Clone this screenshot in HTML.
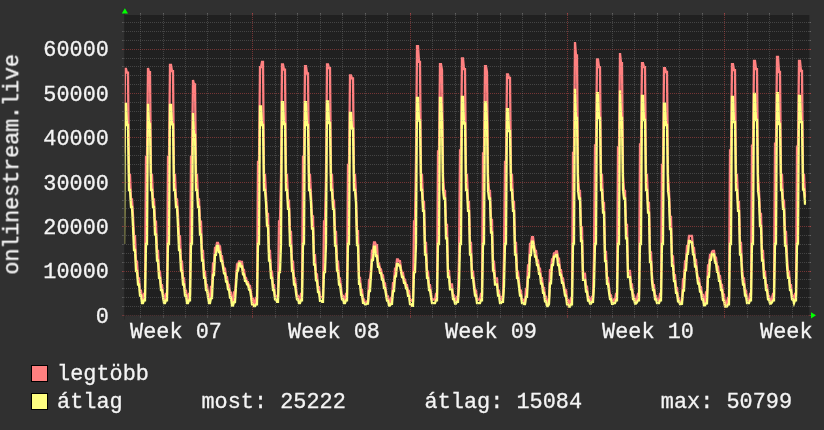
<!DOCTYPE html>
<html><head><meta charset="utf-8"><title>onlinestream.live</title>
<style>
html,body{margin:0;padding:0;background:#303030;}
body{width:824px;height:430px;overflow:hidden;position:relative;font-family:"Liberation Mono",monospace;color:#f4f4f4;}
svg{position:absolute;left:0;top:0;}
.t{position:absolute;white-space:pre;font-family:"Liberation Mono",monospace;font-size:21.85px;line-height:24px;height:24px;letter-spacing:0.018px;color:#f4f4f4;-webkit-text-stroke:0.3px #f4f4f4;will-change:transform;transform-origin:0 17.81px;transform:scaleY(1.04);}
.r{width:200px;text-align:right;}
.vt{left:0;top:0;letter-spacing:-0.142px;transform:translate(18.75px,256.79px) rotate(-90deg) scaleY(1.04);}
.lb{position:absolute;left:31px;width:15px;height:15px;border:1px solid #000;}
</style></head><body>
<svg width="824" height="430" viewBox="0 0 824 430" shape-rendering="auto">
<rect x="124.4" y="15" width="684.9" height="300.5" fill="#202020"/>
<clipPath id="c"><rect x="124.4" y="14.7" width="684.9" height="301"/></clipPath>
<g clip-path="url(#c)" fill="none" stroke-linejoin="miter" stroke-linecap="butt">
<path d="M124 153.0 L125 68.9 L126 68.9 L127 72.7 L128 72.7 L129 175.0 L130 175.0 L131 199.3 L132 199.3 L133 215.0 L134 236.2 L135 236.2 L136 261.6 L137 261.6 L138 278.4 L139 278.4 L140 290.6 L141 290.6 L142 299.5 L143 299.5 L144 294.0 L145 294.0 L146 157.0 L147 157.0 L148 68.0 L149 72.2 L150 72.2 L151 175.0 L152 175.0 L153 199.3 L154 199.3 L155 221.7 L156 221.7 L157 251.0 L158 251.0 L159 271.7 L160 271.7 L161 285.1 L162 285.1 L163 293.3 L164 299.5 L165 299.5 L166 294.0 L167 294.0 L168 157.0 L169 157.0 L170 65.0 L171 65.0 L172 71.1 L173 71.1 L174 175.0 L175 175.0 L176 199.3 L177 199.3 L178 215.0 L179 236.2 L180 236.2 L181 261.6 L182 261.6 L183 278.4 L184 278.4 L185 290.6 L186 290.6 L187 299.5 L188 299.5 L189 294.0 L190 294.0 L191 157.0 L192 157.0 L193 80.1 L194 84.3 L195 84.3 L196 175.0 L197 175.0 L198 199.3 L199 199.3 L200 221.7 L201 221.7 L202 251.0 L203 251.0 L204 271.7 L205 271.7 L206 285.1 L207 285.1 L208 293.3 L209 299.7 L210 299.7 L211 286.8 L212 286.8 L213 263.3 L214 263.3 L215 248.0 L216 248.0 L217 242.9 L218 242.9 L219 246.4 L220 246.4 L221 256.1 L222 256.1 L223 264.6 L224 268.7 L225 268.7 L226 277.1 L227 277.1 L228 285.0 L229 285.0 L230 292.7 L231 292.7 L232 302.6 L233 302.6 L234 292.5 L235 292.5 L236 279.7 L237 264.3 L238 264.3 L239 261.3 L240 261.3 L241 262.0 L242 262.0 L243 270.0 L244 270.0 L245 277.8 L246 277.8 L247 282.2 L248 282.2 L249 286.0 L250 286.0 L251 293.1 L252 298.6 L253 298.6 L254 303.5 L255 303.5 L256 298.0 L257 298.0 L258 162.0 L259 162.0 L260 67.2 L261 67.2 L262 62.0 L263 62.0 L264 175.0 L265 175.0 L266 195.1 L267 214.0 L268 214.0 L269 251.0 L270 251.0 L271 271.7 L272 271.7 L273 285.1 L274 285.1 L275 295.9 L276 295.9 L277 296.8 L278 296.8 L279 221.5 L280 221.5 L281 176.0 L282 64.3 L283 64.3 L284 69.6 L285 69.6 L286 175.0 L287 175.0 L288 200.6 L289 200.6 L290 231.8 L291 231.8 L292 261.6 L293 261.6 L294 278.4 L295 278.4 L296 287.8 L297 295.9 L298 295.9 L299 299.5 L300 299.5 L301 294.0 L302 294.0 L303 157.0 L304 157.0 L305 66.2 L306 66.2 L307 73.5 L308 73.5 L309 175.0 L310 175.0 L311 195.1 L312 216.3 L313 216.3 L314 255.2 L315 255.2 L316 274.4 L317 274.4 L318 287.2 L319 287.2 L320 297.4 L321 297.4 L322 296.8 L323 296.8 L324 221.5 L325 221.5 L326 176.0 L327 64.3 L328 64.3 L329 68.2 L330 68.2 L331 175.0 L332 175.0 L333 200.6 L334 200.6 L335 231.8 L336 231.8 L337 261.6 L338 261.6 L339 278.4 L340 278.4 L341 287.8 L342 295.9 L343 295.9 L344 299.5 L345 299.5 L346 294.0 L347 294.0 L348 165.0 L349 165.0 L350 75.4 L351 75.4 L352 78.3 L353 78.3 L354 175.0 L355 175.0 L356 195.1 L357 231.2 L358 231.2 L359 277.8 L360 277.8 L361 290.0 L362 290.0 L363 299.4 L364 299.4 L365 303.4 L366 303.4 L367 301.3 L368 301.3 L369 279.8 L370 279.8 L371 269.3 L372 250.7 L373 250.7 L374 242.3 L375 242.3 L376 245.1 L377 245.1 L378 263.3 L379 263.3 L380 269.3 L381 269.3 L382 275.3 L383 275.3 L384 283.4 L385 283.4 L386 292.1 L387 296.5 L388 296.5 L389 303.5 L390 303.5 L391 298.0 L392 298.0 L393 283.1 L394 283.1 L395 268.7 L396 268.7 L397 259.3 L398 259.3 L399 261.2 L400 261.2 L401 269.0 L402 272.9 L403 272.9 L404 279.6 L405 279.6 L406 285.1 L407 285.1 L408 290.9 L409 290.9 L410 299.9 L411 299.9 L412 300.8 L413 300.8 L414 221.5 L415 221.5 L416 158.0 L417 46.2 L418 46.2 L419 61.9 L420 61.9 L421 175.0 L422 175.0 L423 201.8 L424 201.8 L425 242.8 L426 242.8 L427 271.7 L428 271.7 L429 285.1 L430 285.1 L431 293.3 L432 299.7 L433 299.7 L434 299.5 L435 299.5 L436 294.0 L437 294.0 L438 151.5 L439 151.5 L440 64.2 L441 64.2 L442 70.0 L443 175.0 L444 190.8 L445 190.8 L446 224.9 L447 224.9 L448 271.0 L449 271.0 L450 284.5 L451 284.5 L452 284.5 L453 295.5 L454 295.5 L455 300.8 L456 300.8 L457 296.8 L458 296.8 L459 257.8 L460 150.5 L461 150.5 L462 58.3 L463 58.3 L464 69.1 L465 69.1 L466 175.0 L467 175.0 L468 201.8 L469 201.8 L470 242.8 L471 242.8 L472 271.7 L473 271.7 L474 281.8 L475 290.6 L476 290.6 L477 299.7 L478 299.7 L479 299.5 L480 299.5 L481 294.0 L482 294.0 L483 153.5 L484 153.5 L485 66.2 L486 66.2 L487 72.0 L488 175.0 L489 190.8 L490 190.8 L491 219.8 L492 219.8 L493 261.6 L494 261.6 L495 278.4 L496 278.4 L497 278.4 L498 290.6 L499 290.6 L500 299.7 L501 299.7 L502 296.8 L503 296.8 L504 257.8 L505 162.0 L506 162.0 L507 74.4 L508 74.4 L509 77.9 L510 77.9 L511 175.0 L512 175.0 L513 201.8 L514 201.8 L515 242.8 L516 242.8 L517 271.7 L518 271.7 L519 281.8 L520 290.6 L521 290.6 L522 299.7 L523 299.7 L524 303.0 L525 303.0 L526 288.9 L527 288.9 L528 265.3 L529 265.3 L530 244.0 L531 244.0 L532 237.1 L533 237.1 L534 244.8 L535 250.9 L536 250.9 L537 260.5 L538 260.5 L539 268.7 L540 268.7 L541 278.2 L542 278.2 L543 288.0 L544 288.0 L545 296.7 L546 296.7 L547 305.1 L548 305.1 L549 297.8 L550 270.2 L551 270.2 L552 259.3 L553 259.3 L554 253.5 L555 253.5 L556 251.5 L557 251.5 L558 258.7 L559 258.7 L560 270.2 L561 270.2 L562 278.4 L563 278.4 L564 286.4 L565 290.4 L566 290.4 L567 299.9 L568 299.9 L569 303.5 L570 303.5 L571 298.0 L572 298.0 L573 153.0 L574 153.0 L575 42.0 L576 55.4 L577 55.4 L578 175.0 L579 190.8 L580 190.8 L581 227.2 L582 227.2 L583 273.7 L584 273.7 L585 273.7 L586 286.7 L587 286.7 L588 297.0 L589 297.0 L590 300.8 L591 300.8 L592 296.8 L593 296.8 L594 257.8 L595 145.4 L596 145.4 L597 59.3 L598 59.3 L599 67.1 L600 67.1 L601 175.0 L602 175.0 L603 202.9 L604 202.9 L605 251.8 L606 251.8 L607 277.8 L608 277.8 L609 287.2 L610 295.5 L611 295.5 L612 302.0 L613 302.0 L614 299.5 L615 299.5 L616 294.0 L617 294.0 L618 147.4 L619 147.4 L620 53.0 L621 63.2 L622 63.2 L623 175.0 L624 190.8 L625 190.8 L626 224.9 L627 224.9 L628 271.0 L629 271.0 L630 271.0 L631 284.5 L632 284.5 L633 295.5 L634 295.5 L635 300.8 L636 300.8 L637 298.1 L638 294.0 L639 294.0 L640 144.5 L641 144.5 L642 63.2 L643 63.2 L644 67.1 L645 67.1 L646 175.0 L647 175.0 L648 203.0 L649 203.0 L650 252.5 L651 252.5 L652 275.1 L653 285.1 L654 285.1 L655 295.9 L656 295.9 L657 299.5 L658 299.5 L659 300.6 L660 294.0 L661 294.0 L662 165.0 L663 165.0 L664 68.1 L665 68.1 L666 72.0 L667 72.0 L668 175.0 L669 190.8 L670 216.9 L671 216.9 L672 256.3 L673 256.3 L674 275.1 L675 275.1 L676 287.8 L677 287.8 L678 297.8 L679 297.8 L680 303.6 L681 303.6 L682 300.8 L683 279.3 L684 279.3 L685 261.3 L686 261.3 L687 246.1 L688 246.1 L689 235.8 L690 235.8 L691 235.8 L692 235.8 L693 247.8 L694 247.8 L695 259.9 L696 259.9 L697 272.2 L698 278.3 L699 278.3 L700 287.1 L701 287.1 L702 295.0 L703 295.0 L704 302.4 L705 302.4 L706 292.5 L707 292.5 L708 265.4 L709 265.4 L710 255.0 L711 255.0 L712 251.8 L713 251.0 L714 251.0 L715 257.7 L716 257.7 L717 266.7 L718 266.7 L719 275.8 L720 275.8 L721 284.8 L722 284.8 L723 294.6 L724 294.6 L725 304.8 L726 304.8 L727 302.1 L728 298.0 L729 298.0 L730 150.5 L731 150.5 L732 64.2 L733 64.2 L734 70.1 L735 70.1 L736 175.0 L737 175.0 L738 201.8 L739 201.8 L740 242.8 L741 242.8 L742 266.8 L743 278.4 L744 278.4 L745 290.6 L746 290.6 L747 299.5 L748 299.5 L749 300.6 L750 294.0 L751 294.0 L752 145.7 L753 145.7 L754 60.9 L755 60.9 L756 69.1 L757 69.1 L758 175.0 L759 190.8 L760 214.0 L761 214.0 L762 251.0 L763 251.0 L764 271.7 L765 271.7 L766 285.1 L767 285.1 L768 295.9 L769 295.9 L770 300.8 L771 300.8 L772 298.1 L773 294.0 L774 294.0 L775 143.7 L776 143.7 L777 57.0 L778 57.0 L779 72.0 L780 72.0 L781 175.0 L782 175.0 L783 200.6 L784 200.6 L785 231.8 L786 231.8 L787 256.3 L788 271.7 L789 271.7 L790 285.1 L791 285.1 L792 295.9 L793 295.9 L794 300.6 L795 294.0 L796 294.0 L797 146.6 L798 146.6 L799 60.9 L800 60.9 L801 71.0 L802 71.0 L803 175.0 L804 175.0 L805 196.5 L806 196.5" stroke="#ff8080" stroke-width="2.3"/>
<path d="M124 244.0 L125 103.8 L126 103.8 L127 125.0 L128 125.0 L129 190.0 L130 190.0 L131 207.0 L132 207.0 L133 227.0 L134 250.0 L135 250.0 L136 271.0 L137 271.0 L138 284.5 L139 284.5 L140 295.5 L141 295.5 L142 303.2 L143 303.2 L144 300.3 L145 300.3 L146 244.0 L147 244.0 L148 103.8 L149 124.0 L150 124.0 L151 190.0 L152 190.0 L153 207.0 L154 207.0 L155 234.7 L156 234.7 L157 260.5 L158 260.5 L159 277.8 L160 277.8 L161 290.0 L162 290.0 L163 297.4 L164 303.2 L165 303.2 L166 300.3 L167 300.3 L168 244.0 L169 244.0 L170 104.8 L171 104.8 L172 124.4 L173 124.4 L174 190.0 L175 190.0 L176 207.0 L177 207.0 L178 227.0 L179 250.0 L180 250.0 L181 271.0 L182 271.0 L183 284.5 L184 284.5 L185 295.5 L186 295.5 L187 303.2 L188 303.2 L189 300.3 L190 300.3 L191 244.0 L192 244.0 L193 113.1 L194 135.0 L195 135.0 L196 190.0 L197 190.0 L198 207.0 L199 207.0 L200 234.7 L201 234.7 L202 260.5 L203 260.5 L204 277.8 L205 277.8 L206 290.0 L207 290.0 L208 297.4 L209 303.2 L210 303.2 L211 298.1 L212 298.1 L213 275.0 L214 275.0 L215 254.9 L216 254.9 L217 245.8 L218 245.8 L219 252.0 L220 252.0 L221 260.8 L222 260.8 L223 267.1 L224 273.4 L225 273.4 L226 281.6 L227 281.6 L228 289.4 L229 289.4 L230 297.7 L231 297.7 L232 305.5 L233 305.5 L234 302.1 L235 302.1 L236 286.6 L237 271.0 L238 271.0 L239 263.2 L240 263.2 L241 266.5 L242 266.5 L243 274.4 L244 274.4 L245 280.9 L246 280.9 L247 284.3 L248 284.3 L249 289.6 L250 289.6 L251 296.3 L252 304.3 L253 304.3 L254 306.1 L255 306.1 L256 304.3 L257 304.3 L258 244.0 L259 244.0 L260 106.3 L261 106.3 L262 125.0 L263 125.0 L264 190.0 L265 190.0 L266 202.8 L267 226.0 L268 226.0 L269 260.5 L270 260.5 L271 277.8 L272 277.8 L273 290.0 L274 290.0 L275 299.4 L276 299.4 L277 301.8 L278 301.8 L279 272.1 L280 272.1 L281 244.0 L282 102.2 L283 102.2 L284 124.0 L285 124.0 L286 190.0 L287 190.0 L288 208.9 L289 208.9 L290 245.6 L291 245.6 L292 271.0 L293 271.0 L294 284.5 L295 284.5 L296 292.8 L297 299.4 L298 299.4 L299 303.2 L300 303.2 L301 300.3 L302 300.3 L303 244.0 L304 244.0 L305 102.2 L306 102.2 L307 125.0 L308 125.0 L309 190.0 L310 190.0 L311 202.8 L312 228.5 L313 228.5 L314 264.7 L315 264.7 L316 280.4 L317 280.4 L318 292.2 L319 292.2 L320 300.9 L321 300.9 L322 301.8 L323 301.8 L324 272.1 L325 272.1 L326 244.0 L327 101.4 L328 101.4 L329 123.0 L330 123.0 L331 190.0 L332 190.0 L333 208.9 L334 208.9 L335 245.6 L336 245.6 L337 271.0 L338 271.0 L339 284.5 L340 284.5 L341 292.8 L342 299.4 L343 299.4 L344 303.2 L345 303.2 L346 300.3 L347 300.3 L348 244.0 L349 244.0 L350 113.0 L351 113.0 L352 128.7 L353 128.7 L354 190.0 L355 190.0 L356 202.8 L357 245.0 L358 245.0 L359 283.8 L360 283.8 L361 294.9 L362 294.9 L363 302.8 L364 302.8 L365 304.4 L366 304.4 L367 303.7 L368 303.7 L369 291.0 L370 291.0 L371 275.0 L372 260.0 L373 260.0 L374 246.6 L375 246.6 L376 256.0 L377 256.0 L378 266.8 L379 266.8 L380 272.8 L381 272.8 L382 279.6 L383 279.6 L384 288.2 L385 288.2 L386 294.8 L387 300.6 L388 300.6 L389 305.6 L390 305.6 L391 303.9 L392 303.9 L393 291.1 L394 291.1 L395 276.4 L396 276.4 L397 263.8 L398 263.8 L399 265.6 L400 265.6 L401 271.5 L402 277.0 L403 277.0 L404 282.9 L405 282.9 L406 288.4 L407 288.4 L408 295.9 L409 295.9 L410 304.2 L411 304.2 L412 305.8 L413 305.8 L414 272.1 L415 272.1 L416 244.0 L417 97.8 L418 97.8 L419 120.5 L420 120.5 L421 190.0 L422 190.0 L423 210.8 L424 210.8 L425 254.5 L426 254.5 L427 277.8 L428 277.8 L429 290.0 L430 290.0 L431 297.4 L432 303.2 L433 303.2 L434 303.2 L435 303.2 L436 300.3 L437 300.3 L438 244.0 L439 244.0 L440 97.8 L441 97.8 L442 120.0 L443 190.0 L444 198.5 L445 198.5 L446 238.4 L447 238.4 L448 277.1 L449 277.1 L450 289.4 L451 289.4 L452 289.4 L453 299.0 L454 299.0 L455 303.7 L456 303.7 L457 301.8 L458 301.8 L459 286.2 L460 244.0 L461 244.0 L462 97.0 L463 97.0 L464 123.5 L465 123.5 L466 190.0 L467 190.0 L468 210.8 L469 210.8 L470 254.5 L471 254.5 L472 277.8 L473 277.8 L474 287.2 L475 295.5 L476 295.5 L477 303.2 L478 303.2 L479 303.2 L480 303.2 L481 300.3 L482 300.3 L483 244.0 L484 244.0 L485 102.3 L486 102.3 L487 123.0 L488 190.0 L489 198.5 L490 198.5 L491 232.5 L492 232.5 L493 271.0 L494 271.0 L495 284.5 L496 284.5 L497 284.5 L498 295.5 L499 295.5 L500 303.2 L501 303.2 L502 301.8 L503 301.8 L504 286.2 L505 244.0 L506 244.0 L507 109.1 L508 109.1 L509 131.0 L510 131.0 L511 190.0 L512 190.0 L513 210.8 L514 210.8 L515 254.5 L516 254.5 L517 277.8 L518 277.8 L519 287.2 L520 295.5 L521 295.5 L522 303.2 L523 303.2 L524 304.0 L525 304.0 L526 296.9 L527 296.9 L528 277.4 L529 277.4 L530 255.1 L531 255.1 L532 241.6 L533 241.6 L534 248.3 L535 256.6 L536 256.6 L537 265.1 L538 265.1 L539 273.8 L540 273.8 L541 283.6 L542 283.6 L543 292.9 L544 292.9 L545 301.4 L546 301.4 L547 306.0 L548 306.0 L549 303.9 L550 283.4 L551 283.4 L552 265.2 L553 265.2 L554 256.7 L555 256.7 L556 254.8 L557 254.8 L558 265.0 L559 265.0 L560 274.9 L561 274.9 L562 282.9 L563 282.9 L564 288.9 L565 295.6 L566 295.6 L567 304.4 L568 304.4 L569 306.5 L570 306.5 L571 304.3 L572 304.3 L573 244.0 L574 244.0 L575 88.8 L576 118.0 L577 118.0 L578 190.0 L579 198.5 L580 198.5 L581 241.0 L582 241.0 L583 279.8 L584 279.8 L585 279.8 L586 291.6 L587 291.6 L588 300.5 L589 300.5 L590 303.7 L591 303.7 L592 301.8 L593 301.8 L594 286.2 L595 244.0 L596 244.0 L597 93.1 L598 93.1 L599 118.0 L600 118.0 L601 190.0 L602 190.0 L603 212.5 L604 212.5 L605 261.2 L606 261.2 L607 283.8 L608 283.8 L609 292.2 L610 299.0 L611 299.0 L612 303.8 L613 303.8 L614 303.2 L615 303.2 L616 300.3 L617 300.3 L618 244.0 L619 244.0 L620 90.4 L621 118.0 L622 118.0 L623 190.0 L624 198.5 L625 198.5 L626 238.4 L627 238.4 L628 277.1 L629 277.1 L630 277.1 L631 289.4 L632 289.4 L633 299.0 L634 299.0 L635 303.7 L636 303.7 L637 302.5 L638 300.3 L639 300.3 L640 244.0 L641 244.0 L642 96.0 L643 96.0 L644 120.0 L645 120.0 L646 190.0 L647 190.0 L648 212.7 L649 212.7 L650 262.0 L651 262.0 L652 281.1 L653 290.0 L654 290.0 L655 299.4 L656 299.4 L657 303.2 L658 303.2 L659 303.2 L660 300.3 L661 300.3 L662 244.0 L663 244.0 L664 103.7 L665 103.7 L666 125.0 L667 125.0 L668 190.0 L669 198.5 L670 229.2 L671 229.2 L672 265.8 L673 265.8 L674 281.1 L675 281.1 L676 292.8 L677 292.8 L678 301.3 L679 301.3 L680 304.2 L681 304.2 L682 303.9 L683 290.5 L684 290.5 L685 270.3 L686 270.3 L687 253.9 L688 253.9 L689 241.0 L690 241.0 L691 242.3 L692 242.3 L693 254.3 L694 254.3 L695 266.5 L696 266.5 L697 275.8 L698 283.5 L699 283.5 L700 291.6 L701 291.6 L702 299.4 L703 299.4 L704 305.3 L705 305.3 L706 303.4 L707 303.4 L708 276.9 L709 276.9 L710 259.8 L711 259.8 L712 253.9 L713 254.2 L714 254.2 L715 262.7 L716 262.7 L717 271.8 L718 271.8 L719 280.8 L720 280.8 L721 290.0 L722 290.0 L723 300.2 L724 300.2 L725 306.7 L726 306.7 L727 306.5 L728 304.3 L729 304.3 L730 244.0 L731 244.0 L732 97.0 L733 97.0 L734 122.0 L735 122.0 L736 190.0 L737 190.0 L738 210.8 L739 210.8 L740 254.5 L741 254.5 L742 274.4 L743 284.5 L744 284.5 L745 295.5 L746 295.5 L747 303.2 L748 303.2 L749 303.2 L750 300.3 L751 300.3 L752 244.0 L753 244.0 L754 93.9 L755 93.9 L756 120.0 L757 120.0 L758 190.0 L759 198.5 L760 226.0 L761 226.0 L762 260.5 L763 260.5 L764 277.8 L765 277.8 L766 290.0 L767 290.0 L768 299.4 L769 299.4 L770 303.7 L771 303.7 L772 302.5 L773 300.3 L774 300.3 L775 244.0 L776 244.0 L777 93.1 L778 93.1 L779 124.0 L780 124.0 L781 190.0 L782 190.0 L783 208.9 L784 208.9 L785 245.6 L786 245.6 L787 265.8 L788 277.8 L789 277.8 L790 290.0 L791 290.0 L792 299.4 L793 299.4 L794 303.2 L795 300.3 L796 300.3 L797 244.0 L798 244.0 L799 95.8 L800 95.8 L801 122.0 L802 122.0 L803 189.5 L804 189.5 L805 203.7 L806 203.7" stroke="#ffff80" stroke-width="2.3"/>
</g>
<path d="M122 306.5H811 M122 297.5H811 M122 288.5H811 M122 279.5H811 M122 262.5H811 M122 253.5H811 M122 244.5H811 M122 235.5H811 M122 217.5H811 M122 208.5H811 M122 200.5H811 M122 191.5H811 M122 173.5H811 M122 164.5H811 M122 155.5H811 M122 146.5H811 M122 129.5H811 M122 120.5H811 M122 111.5H811 M122 102.5H811 M122 84.5H811 M122 75.5H811 M122 66.5H811 M122 58.5H811 M122 40.5H811 M122 31.5H811 M122 22.5H811" stroke="#8f8f8f" stroke-opacity="0.33" stroke-width="1" stroke-dasharray="1 1" fill="none"/>
<path d="M122 271.5H811 M122 226.5H811 M122 182.5H811 M122 137.5H811 M122 93.5H811 M122 49.5H811" stroke="#de4f4f" stroke-opacity="0.44" stroke-width="1" stroke-dasharray="1 1" fill="none"/>
<path d="M122 315.5H811" stroke="#de4f4f" stroke-opacity="0.44" stroke-width="1" stroke-dasharray="1 1" fill="none" opacity="0.45"/>
<path d="M140.5 13V317 M163.5 13V317 M185.5 13V317 M207.5 13V317 M230.5 13V317 M275.5 13V317 M297.5 13V317 M320.5 13V317 M342.5 13V317 M365.5 13V317 M387.5 13V317 M432.5 13V317 M455.5 13V317 M477.5 13V317 M500.5 13V317 M522.5 13V317 M545.5 13V317 M590.5 13V317 M612.5 13V317 M634.5 13V317 M657.5 13V317 M679.5 13V317 M702.5 13V317 M747.5 13V317 M769.5 13V317 M792.5 13V317" stroke="#8f8f8f" stroke-opacity="0.33" stroke-width="1" stroke-dasharray="1 1" fill="none"/>
<path d="M252.5 13V317 M410.5 13V317 M567.5 13V317 M724.5 13V317" stroke="#de4f4f" stroke-opacity="0.44" stroke-width="1" stroke-dasharray="1 1" fill="none"/>
<path d="M122.5 306.5H124.5M809 306.5H811 M122.5 297.5H124.5M809 297.5H811 M122.5 288.5H124.5M809 288.5H811 M122.5 279.5H124.5M809 279.5H811 M122.5 262.5H124.5M809 262.5H811 M122.5 253.5H124.5M809 253.5H811 M122.5 244.5H124.5M809 244.5H811 M122.5 235.5H124.5M809 235.5H811 M122.5 217.5H124.5M809 217.5H811 M122.5 208.5H124.5M809 208.5H811 M122.5 200.5H124.5M809 200.5H811 M122.5 191.5H124.5M809 191.5H811 M122.5 173.5H124.5M809 173.5H811 M122.5 164.5H124.5M809 164.5H811 M122.5 155.5H124.5M809 155.5H811 M122.5 146.5H124.5M809 146.5H811 M122.5 129.5H124.5M809 129.5H811 M122.5 120.5H124.5M809 120.5H811 M122.5 111.5H124.5M809 111.5H811 M122.5 102.5H124.5M809 102.5H811 M122.5 84.5H124.5M809 84.5H811 M122.5 75.5H124.5M809 75.5H811 M122.5 66.5H124.5M809 66.5H811 M122.5 58.5H124.5M809 58.5H811 M122.5 40.5H124.5M809 40.5H811 M122.5 31.5H124.5M809 31.5H811 M122.5 22.5H124.5M809 22.5H811 M140.5 13V15M140.5 316V318 M163.5 13V15M163.5 316V318 M185.5 13V15M185.5 316V318 M207.5 13V15M207.5 316V318 M230.5 13V15M230.5 316V318 M275.5 13V15M275.5 316V318 M297.5 13V15M297.5 316V318 M320.5 13V15M320.5 316V318 M342.5 13V15M342.5 316V318 M365.5 13V15M365.5 316V318 M387.5 13V15M387.5 316V318 M432.5 13V15M432.5 316V318 M455.5 13V15M455.5 316V318 M477.5 13V15M477.5 316V318 M500.5 13V15M500.5 316V318 M522.5 13V15M522.5 316V318 M545.5 13V15M545.5 316V318 M590.5 13V15M590.5 316V318 M612.5 13V15M612.5 316V318 M634.5 13V15M634.5 316V318 M657.5 13V15M657.5 316V318 M679.5 13V15M679.5 316V318 M702.5 13V15M702.5 316V318 M747.5 13V15M747.5 316V318 M769.5 13V15M769.5 316V318 M792.5 13V15M792.5 316V318" stroke="#8f8f8f" stroke-opacity="0.3" stroke-width="1" fill="none"/>
<path d="M122.5 315.5H124.5M809 315.5H811 M122.5 271.5H124.5M809 271.5H811 M122.5 226.5H124.5M809 226.5H811 M122.5 182.5H124.5M809 182.5H811 M122.5 137.5H124.5M809 137.5H811 M122.5 93.5H124.5M809 93.5H811 M122.5 49.5H124.5M809 49.5H811 M252.5 13V15M252.5 316V318 M410.5 13V15M410.5 316V318 M567.5 13V15M567.5 316V318 M724.5 13V15M724.5 316V318" stroke="#de4f4f" stroke-opacity="0.36" stroke-width="1" fill="none"/>
<path d="M124.5 11V319.5" stroke="#1f1f1f" stroke-width="1" fill="none" opacity="0.5"/>
<path d="M121.8 13.4L124.9 8.2L128 13.4Z" fill="#00ff00"/>
<path d="M811 312.2L816 315.3L811 318.4Z" fill="#00ff00"/>
</svg>
<div class="t r" style="left:-90.90px;top:305.79px">0</div>
<div class="t r" style="left:-90.90px;top:261.41px">10000</div>
<div class="t r" style="left:-90.90px;top:217.02px">20000</div>
<div class="t r" style="left:-90.90px;top:172.63px">30000</div>
<div class="t r" style="left:-90.90px;top:128.25px">40000</div>
<div class="t r" style="left:-90.90px;top:83.86px">50000</div>
<div class="t r" style="left:-90.90px;top:39.48px">60000</div>
<div class="t" style="left:130.10px;top:321.19px">Week 07</div>
<div class="t" style="left:287.50px;top:321.19px">Week 08</div>
<div class="t" style="left:444.90px;top:321.19px">Week 09</div>
<div class="t" style="left:602.30px;top:321.19px">Week 10</div>
<div class="t" style="left:759.70px;top:321.19px">Week 11</div>
<div class="t vt">onlinestream.live</div>
<div class="lb" style="top:365px;background:#ff8080"></div>
<div class="lb" style="top:393px;background:#ffff80"></div>
<div class="t" style="left:57.20px;top:363.49px">legtöbb</div>
<div class="t" style="left:57.40px;top:391.49px">átlag      most: 25222      átlag: 15084      max: 50799</div>
</body></html>
